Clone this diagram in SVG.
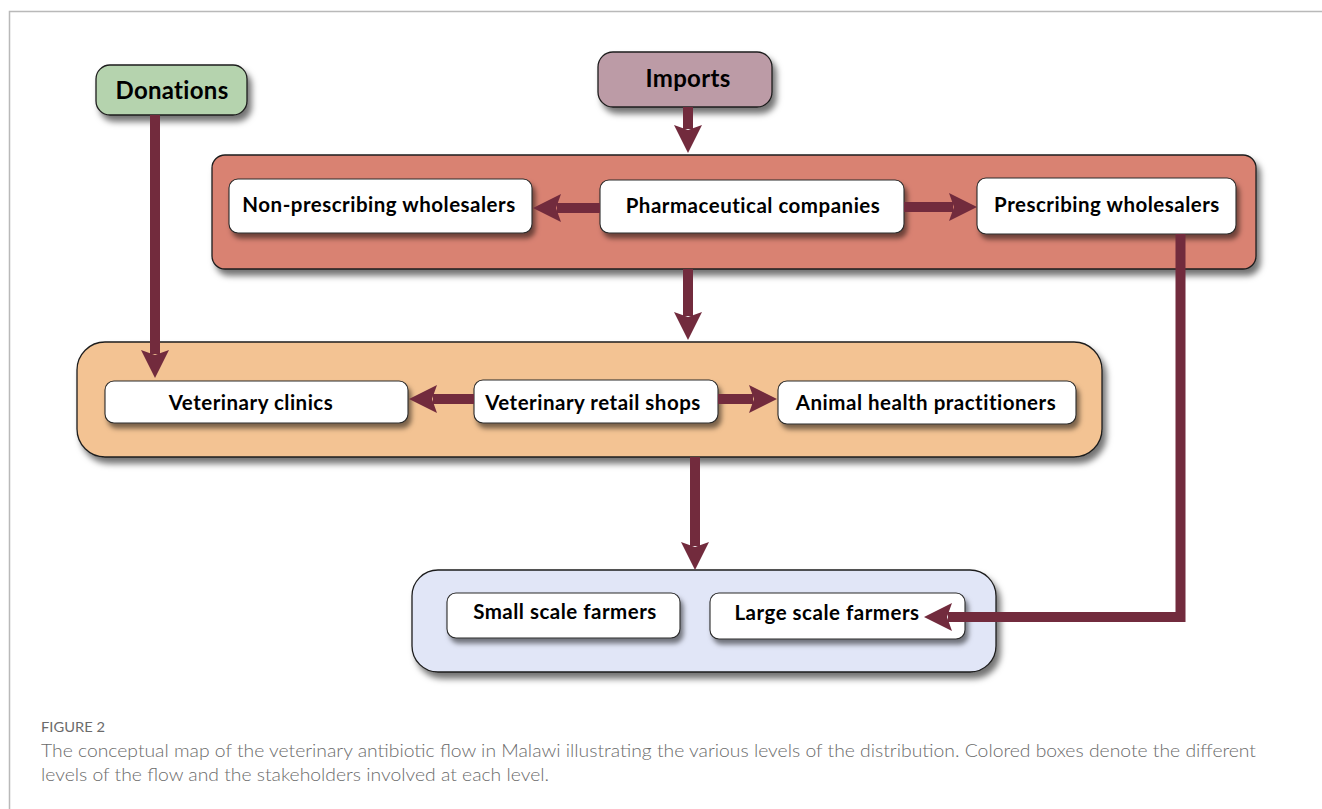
<svg xmlns="http://www.w3.org/2000/svg" width="1322" height="809" viewBox="0 0 1322 809">
  <style>
    .node text { font-family: Lato, "Open Sans", "Liberation Sans", sans-serif; font-weight: 700; fill: #000; text-anchor: middle; dominant-baseline: central; }
    .node text.lbl { font-size: 20.5px; letter-spacing: 0.5px; }
    .node text.head { font-size: 24px; letter-spacing: 0.3px; }
    .src { stroke: #1e1e1e; stroke-width: 1.3; filter: url(#shadow); }
    .lvl rect { stroke: #1e1e1e; stroke-width: 1.3; filter: url(#shadow); }
    .inner { fill: #ffffff; stroke: #2a2a2a; stroke-width: 1.1; filter: url(#shadowSm); }
    .flow { fill: none; stroke: #722b3d; stroke-width: 10; marker-end: url(#head); }
    .cap { font-family: Lato, "Open Sans", "Liberation Sans", sans-serif; fill: #6b6b6b; }
  </style>
  <defs>
    <filter id="shadow" x="-10%" y="-20%" width="120%" height="150%">
      <feDropShadow dx="4" dy="6" stdDeviation="3" flood-color="#000" flood-opacity="0.55"/>
    </filter>
    <filter id="shadowSm" x="-10%" y="-20%" width="120%" height="160%">
      <feDropShadow dx="3" dy="5" stdDeviation="2.5" flood-color="#000" flood-opacity="0.5"/>
    </filter>
    <marker id="head" markerUnits="userSpaceOnUse" markerWidth="30" markerHeight="32" refX="4" refY="16" orient="auto">
      <path d="M0,2 L28,16 L0,30 L5,16 Z" fill="#722b3d"/>
    </marker>
  </defs>

  <rect width="1322" height="809" fill="#ffffff"/>
  <!-- figure frame (top and left rules) -->
  <path d="M9.5,809 V11.5 H1322" fill="none" stroke="#b9b9b9" stroke-width="1.5"/>

  <!-- distribution levels -->
  <g id="level-manufacture" class="lvl">
    <rect x="212" y="155" width="1044" height="114" rx="13" fill="#d98272"/>
  </g>
  <g id="level-retail" class="lvl">
    <rect x="77" y="342" width="1025" height="115" rx="28" fill="#f3c393"/>
  </g>
  <g id="level-farm" class="lvl">
    <rect x="412" y="570" width="584" height="102" rx="26" fill="#e1e6f7"/>
  </g>

  <!-- sources -->
  <g id="donations" class="node">
    <rect class="src" x="96" y="65" width="151" height="50" rx="14" fill="#b5d3ae"/>
    <text class="head" x="172" y="89">Donations</text>
  </g>
  <g id="imports" class="node">
    <rect class="src" x="598" y="52" width="174" height="55" rx="15" fill="#bc9ba6"/>
    <text class="head" x="688" y="77">Imports</text>
  </g>

  <!-- stakeholders -->
  <g id="non-prescribing" class="node">
    <rect class="inner" x="229" y="179" width="303" height="54" rx="9"/>
    <text class="lbl" x="379" y="204">Non-prescribing wholesalers</text>
  </g>
  <g id="pharma" class="node">
    <rect class="inner" x="600" y="180" width="304" height="53" rx="9"/>
    <text class="lbl" x="753" y="205">Pharmaceutical companies</text>
  </g>
  <g id="prescribing" class="node">
    <rect class="inner" x="977" y="178" width="259" height="56" rx="9"/>
    <text class="lbl" x="1107" y="204">Prescribing wholesalers</text>
  </g>
  <g id="vet-clinics" class="node">
    <rect class="inner" x="105" y="381" width="303" height="42" rx="9"/>
    <text class="lbl" x="251" y="402">Veterinary clinics</text>
  </g>
  <g id="vet-retail" class="node">
    <rect class="inner" x="474" y="380" width="244" height="43" rx="9"/>
    <text class="lbl" x="593" y="402">Veterinary retail shops</text>
  </g>
  <g id="animal-health" class="node">
    <rect class="inner" x="778" y="381" width="298" height="43" rx="9"/>
    <text class="lbl" x="926" y="402">Animal health practitioners</text>
  </g>
  <g id="small-farmers" class="node">
    <rect class="inner" x="447" y="593" width="233" height="45" rx="9"/>
    <text class="lbl" x="565" y="611">Small scale farmers</text>
  </g>
  <g id="large-farmers" class="node">
    <rect class="inner" x="710" y="593" width="255" height="46" rx="9"/>
    <text class="lbl" x="827" y="612">Large scale farmers</text>
  </g>

  <!-- connectors (drawn over the boxes) -->
  <g id="connectors">
    <path class="flow" d="M688,107 V129"/>
    <path class="flow" d="M600,208 H557"/>
    <path class="flow" d="M904,207 H953"/>
    <path class="flow" d="M688,269 V316"/>
    <path class="flow" d="M155,115 V354"/>
    <path class="flow" d="M474,399 H433"/>
    <path class="flow" d="M718,399 H753"/>
    <path class="flow" d="M695,457 V546"/>
    <path class="flow" d="M1180.5,234 V617 H948"/>
  </g>

  <!-- caption -->
  <text class="cap" x="41" y="732" font-size="13" textLength="64" lengthAdjust="spacingAndGlyphs">FIGURE 2</text>
  <text class="cap" x="41" y="757" font-size="17.5" font-weight="300" textLength="1215" lengthAdjust="spacingAndGlyphs">The conceptual map of the veterinary antibiotic flow in Malawi illustrating the various levels of the distribution. Colored boxes denote the different</text>
  <text class="cap" x="41" y="781" font-size="17.5" font-weight="300" textLength="508" lengthAdjust="spacingAndGlyphs">levels of the flow and the stakeholders involved at each level.</text>
</svg>
